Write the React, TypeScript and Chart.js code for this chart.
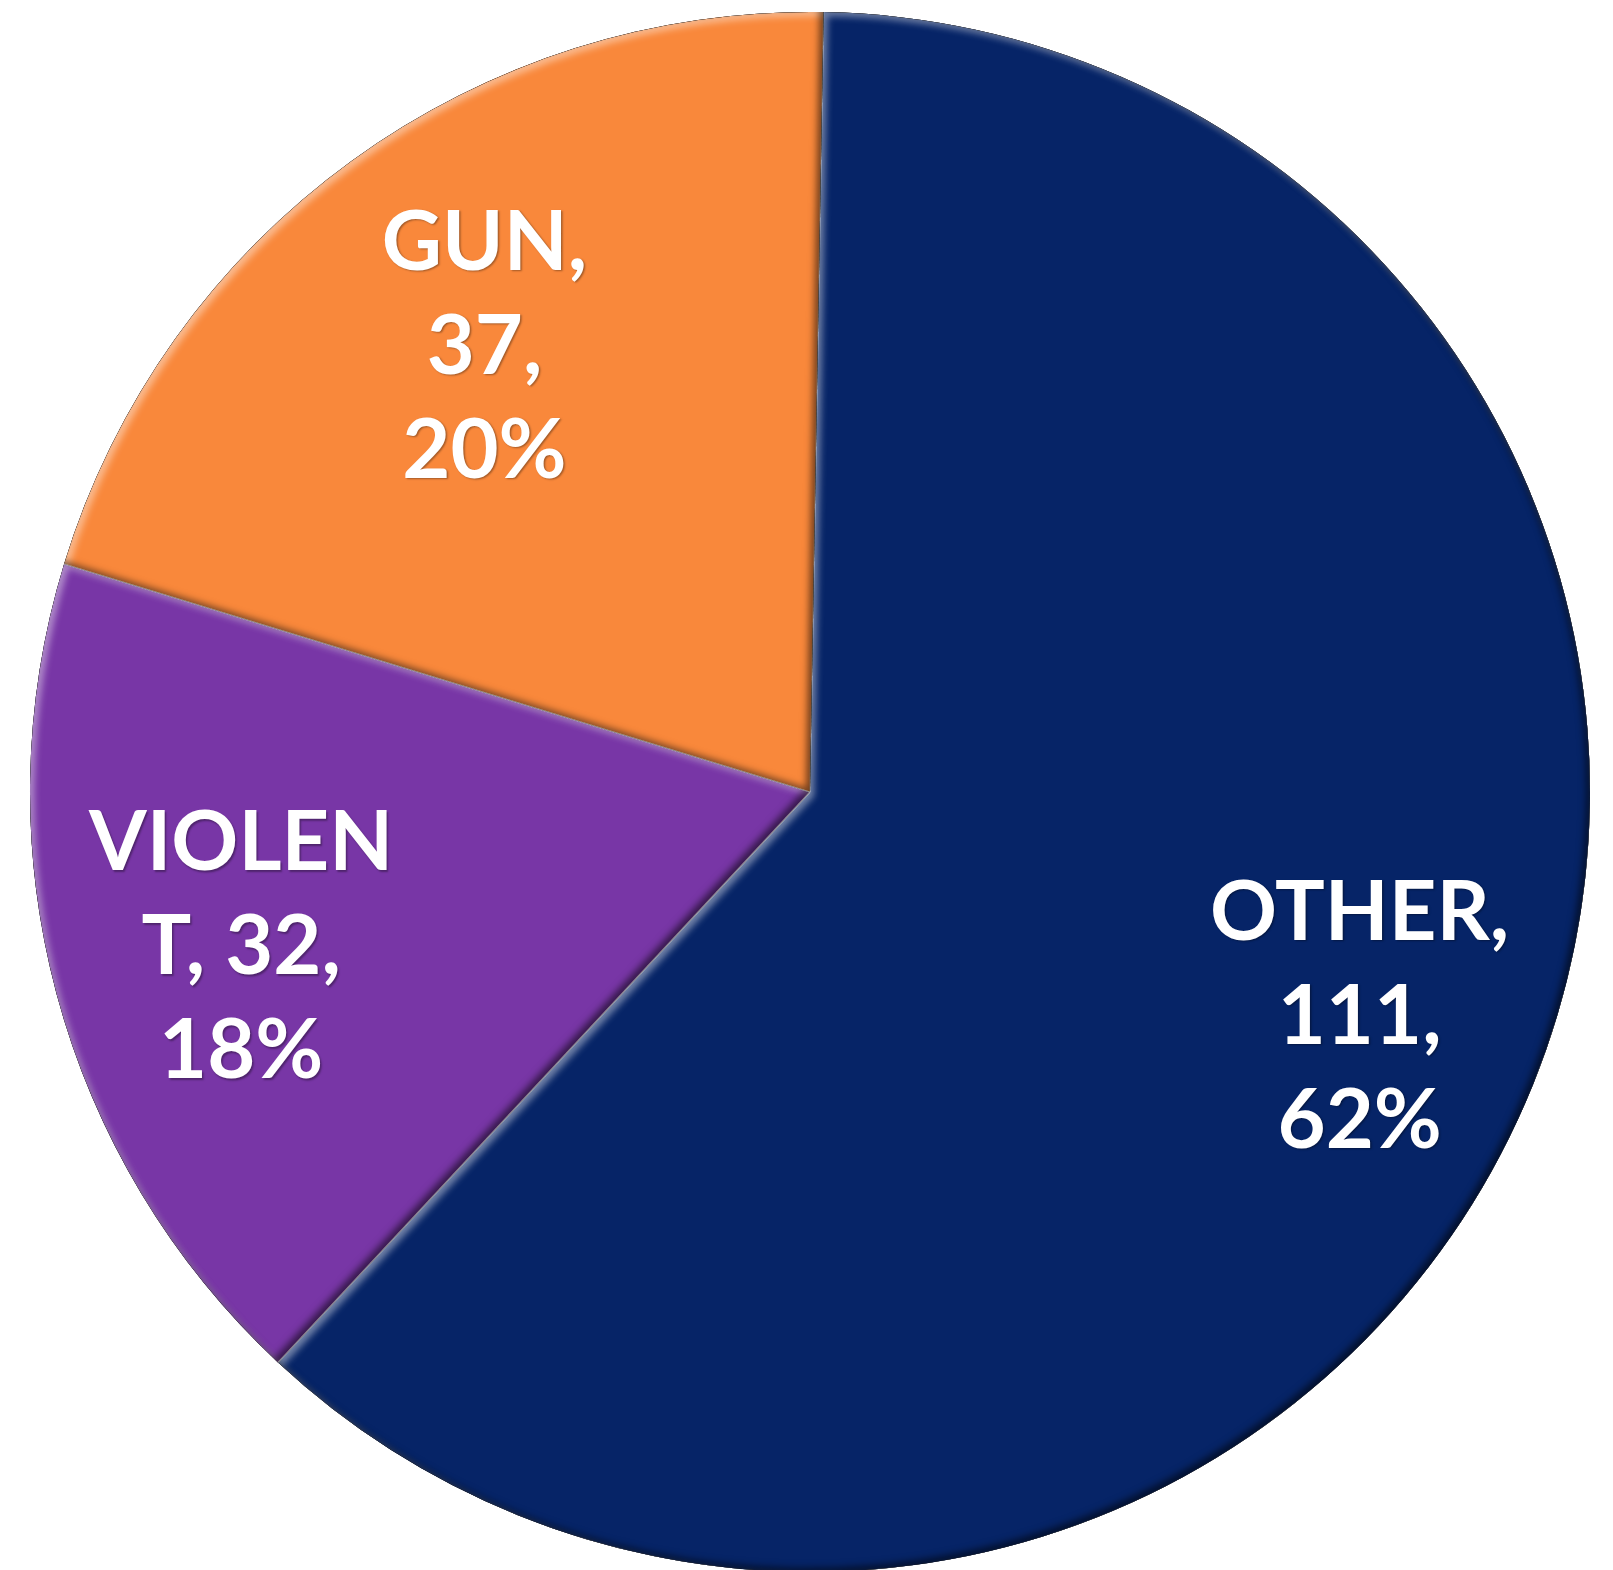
import React, { useEffect, useRef } from "react";
import { Chart, registerables } from "chart.js";

Chart.register(...registerables);

const categories = ["OTHER", "VIOLENT", "GUN"];
const values = [111, 32, 37];
const percents = [62, 18, 20];
const colors = ["#062467", "#7836A6", "#F9883B"];

const W = 1613;
const H = 1570;
const LABEL_FRACTION = [0.76, 0.755, 0.71];
const FONT_SIZE = 83;
const LINE_H = 104;

function wrapLabel(text: string, maxChars: number): string[] {
  const words = text.split(" ");
  const lines: string[] = [];
  let cur = "";
  for (let w of words) {
    while (w.length > maxChars) {
      if (cur) {
        lines.push(cur);
        cur = "";
      }
      lines.push(w.slice(0, maxChars));
      w = w.slice(maxChars);
    }
    const cand = cur ? cur + " " + w : w;
    if (cand.length <= maxChars) cur = cand;
    else {
      if (cur) lines.push(cur);
      cur = w;
    }
  }
  if (cur) lines.push(cur);
  return lines;
}

function addArc(ctx: CanvasRenderingContext2D, a: any) {
  ctx.moveTo(a.x, a.y);
  ctx.arc(a.x, a.y, a.outerRadius, a.startAngle, a.endAngle);
  ctx.closePath();
}

function innerShadow(ctx: CanvasRenderingContext2D, a: any, color: string, dx: number, dy: number, blur: number) {
  ctx.save();
  ctx.shadowColor = color;
  ctx.shadowOffsetX = dx;
  ctx.shadowOffsetY = dy;
  ctx.shadowBlur = blur;
  ctx.beginPath();
  ctx.rect(-4000, -4000, 10000, 10000);
  addArc(ctx, a);
  ctx.fillStyle = "#000";
  ctx.fill("evenodd");
  ctx.restore();
}

const bevelPlugin = {
  id: "bevel",
  afterDatasetsDraw(chart: any) {
    const ctx: CanvasRenderingContext2D = chart.ctx;
    const meta = chart.getDatasetMeta(0);
    meta.data.forEach((arc: any) => {
      const a = arc.getProps(["x", "y", "startAngle", "endAngle", "outerRadius"], true);
      ctx.save();
      ctx.beginPath();
      addArc(ctx, a);
      ctx.clip();
      innerShadow(ctx, a, "rgba(255,255,255,0.45)", 4, 4, 7);
      innerShadow(ctx, a, "rgba(0,0,0,0.55)", -4, -4, 7);
      ctx.restore();
      ctx.save();
      ctx.beginPath();
      ctx.moveTo(a.x, a.y);
      ctx.lineTo(a.x + Math.cos(a.startAngle) * a.outerRadius, a.y + Math.sin(a.startAngle) * a.outerRadius);
      ctx.strokeStyle = "rgba(230,230,230,0.55)";
      ctx.lineWidth = 1.2;
      ctx.stroke();
      ctx.restore();
    });
  },
  afterDraw(chart: any) {
    const ctx: CanvasRenderingContext2D = chart.ctx;
    const meta = chart.getDatasetMeta(0);
    meta.data.forEach((arc: any, i: number) => {
      const a = arc.getProps(["x", "y", "startAngle", "endAngle", "outerRadius"], true);
      const mid = (a.startAngle + a.endAngle) / 2;
      const r = a.outerRadius * LABEL_FRACTION[i];
      const cx = a.x + Math.cos(mid) * r;
      const cy = a.y + Math.sin(mid) * r;
      const text = `${categories[i]}, ${values[i]}, ${percents[i]}%`;
      const lines = wrapLabel(text, 6);
      ctx.save();
      ctx.font = `bold ${FONT_SIZE}px Lato, "DejaVu Sans", sans-serif`;
      ctx.fillStyle = "#ffffff";
      ctx.textAlign = "center";
      ctx.textBaseline = "alphabetic";
      ctx.shadowColor = "rgba(0,0,0,0.35)";
      ctx.shadowOffsetX = 1.5;
      ctx.shadowOffsetY = 1.5;
      ctx.shadowBlur = 2;
      const capHalf = FONT_SIZE * 0.72 / 2;
      lines.forEach((ln, j) => {
        const y = cy + (j - (lines.length - 1) / 2) * LINE_H + capHalf;
        ctx.fillText(ln, cx, y);
      });
      ctx.restore();
    });
  },
};

export default function App() {
  const ref = useRef<HTMLCanvasElement | null>(null);
  useEffect(() => {
    document.body.style.margin = "0";
    const canvas = ref.current;
    if (!canvas) return;
    const chart = new Chart(canvas, {
      type: "pie",
      data: {
        labels: categories,
        datasets: [
          {
            data: values,
            backgroundColor: colors,
            borderWidth: 0,
          },
        ],
      },
      options: {
        responsive: false,
        animation: false,
        rotation: 1,
        radius: 780,
        layout: { padding: { left: 30, right: 23, top: 14, bottom: 0 } },
        plugins: {
          legend: { display: false },
          tooltip: { enabled: false },
          title: { display: false },
        },
      } as any,
      plugins: [bevelPlugin],
    });
    return () => chart.destroy();
  }, []);
  return (
    <div style={{ width: W, height: H, background: "#ffffff" }}>
      <canvas ref={ref} width={W} height={H} style={{ display: "block" }} />
    </div>
  );
}
